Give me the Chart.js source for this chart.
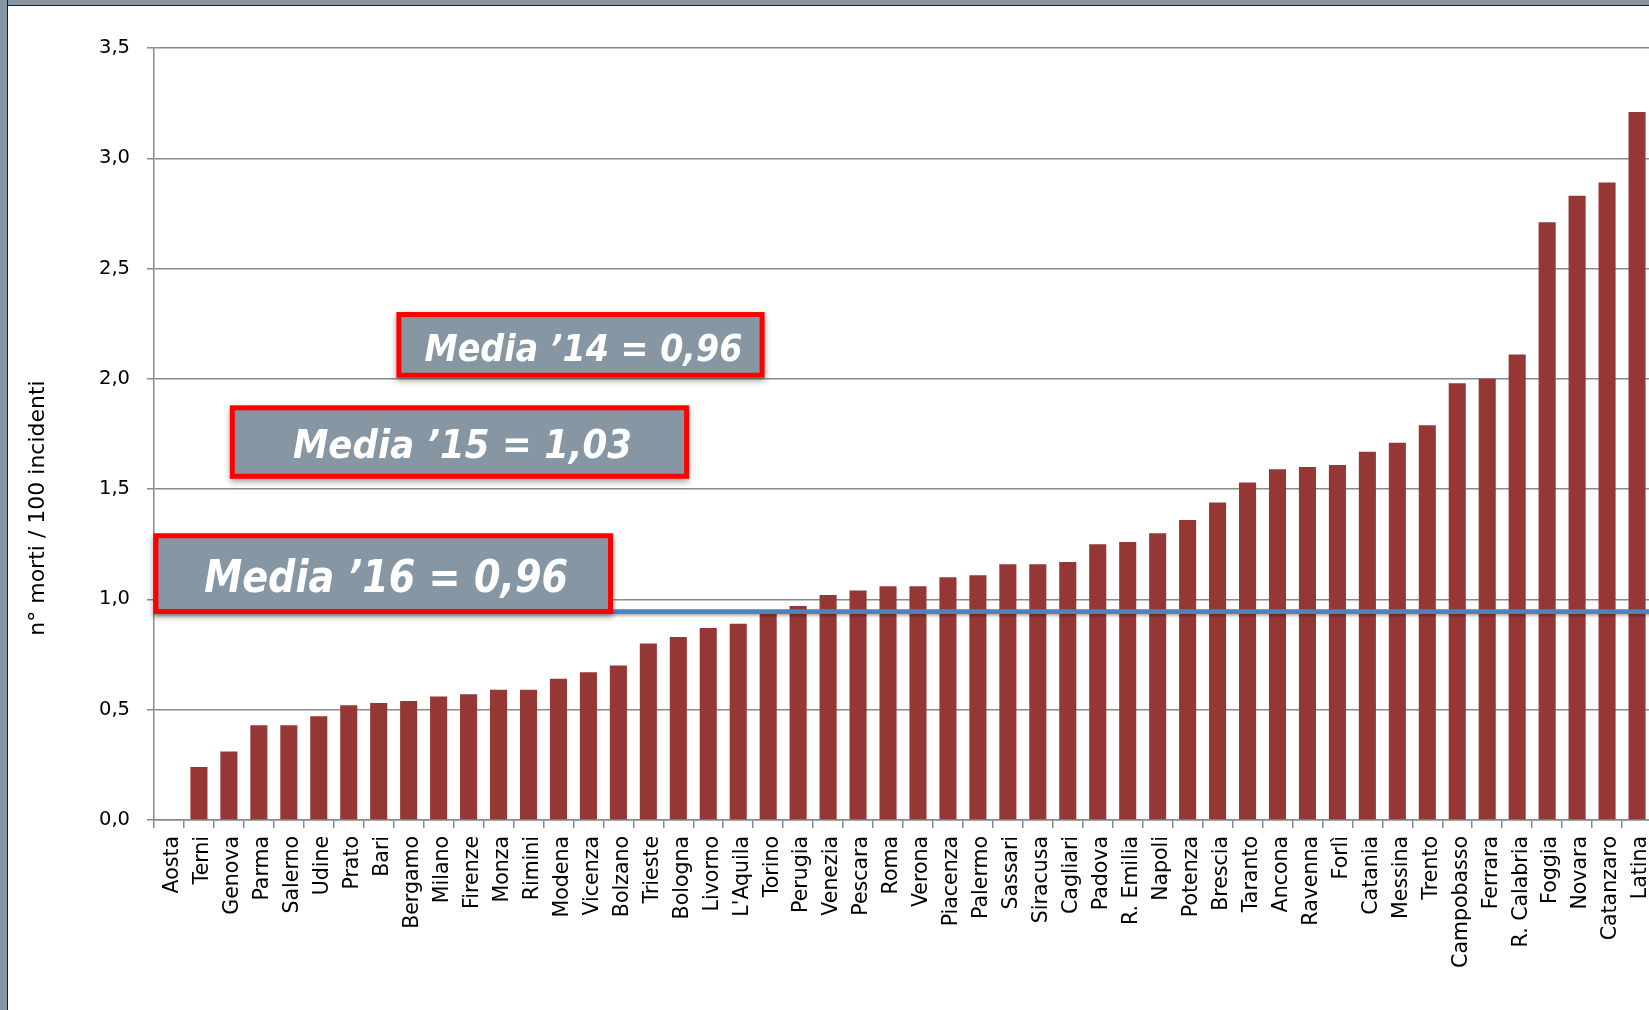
<!DOCTYPE html>
<html>
<head>
<meta charset="utf-8">
<script src="https://cdn.jsdelivr.net/npm/chart.js@4/dist/chart.umd.min.js"></script>
<style>
html,body{margin:0;padding:0;overflow:hidden;background:#fff;width:1649px;height:1010px;}
#wrap{position:absolute;left:0;top:0;width:1652px;height:1010px;}
#frameTop{position:absolute;left:0;top:0;width:1649px;height:5px;background:#8596a2;border-bottom:1px solid #1e1e1e;z-index:2}
#frameLeft{position:absolute;left:0;top:0;width:7px;height:1010px;background:#8596a2;border-right:1px solid #1e1e1e;z-index:2}
</style>
</head>
<body>
<div id="wrap"><canvas id="c" width="1652" height="1010" style="width:1652px;height:1010px"></canvas></div>
<div id="frameTop"></div>
<div id="frameLeft"></div>
<script>
const cities = ['Aosta','Terni','Genova','Parma','Salerno','Udine','Prato','Bari','Bergamo','Milano',
  'Firenze','Monza','Rimini','Modena','Vicenza','Bolzano','Trieste','Bologna','Livorno',"L'Aquila",
  'Torino','Perugia','Venezia','Pescara','Roma','Verona','Piacenza','Palermo','Sassari','Siracusa',
  'Cagliari','Padova','R. Emilia','Napoli','Potenza','Brescia','Taranto','Ancona','Ravenna','Forlì',
  'Catania','Messina','Trento','Campobasso','Ferrara','R. Calabria','Foggia','Novara','Catanzaro','Latina'];
const deathsPer100 = [0, 0.24, 0.31, 0.43, 0.43, 0.47, 0.52, 0.53, 0.54, 0.56,
  0.57, 0.59, 0.59, 0.64, 0.67, 0.70, 0.80, 0.83, 0.87, 0.89,
  0.94, 0.97, 1.02, 1.04, 1.06, 1.06, 1.10, 1.11, 1.16, 1.16,
  1.17, 1.25, 1.26, 1.30, 1.36, 1.44, 1.53, 1.59, 1.60, 1.61,
  1.67, 1.71, 1.79, 1.98, 2.00, 2.11, 2.71, 2.83, 2.89, 3.21];
const yTickLabels = ['0,0','0,5','1,0','1,5','2,0','2,5','3,0','3,5'];
const yTitle = 'n° morti / 100 incidenti';
const media16Line = 0.945;
const boxTexts = ['Media ’14 = 0,96', 'Media ’15 = 1,03', 'Media ’16 = 0,96'];
// box extents in category units (x) and axis values (y)
const boxX0 = [7.59, 2.03, -0.52];
const boxX1 = [19.88, 17.36, 14.82];
const boxYTop = [2.303, 1.880, 1.300];
const boxYBottom = [2.005, 1.547, 0.934];
const boxFontSize = [38, 39, 44];
const boxTextWidth = [318, 339, 364];

const overlay = {
  id: 'overlay',
  afterDatasetsDraw(chart) {
    const {ctx, chartArea, scales: {x, y}} = chart;
    const py = y.getPixelForValue(media16Line);
    ctx.save();
    ctx.shadowColor = 'rgba(0,0,0,0.3)';
    ctx.shadowBlur = 3;
    ctx.shadowOffsetY = 2;
    ctx.strokeStyle = '#4F81BD';
    ctx.lineWidth = 4.7;
    ctx.beginPath();
    ctx.moveTo(chartArea.left, py);
    ctx.lineTo(chartArea.right, py);
    ctx.stroke();
    ctx.restore();

    for (let i = 0; i < boxTexts.length; i++) {
      const l = x.getPixelForValue(boxX0[i]);
      const r = x.getPixelForValue(boxX1[i]);
      const t = y.getPixelForValue(boxYTop[i]);
      const b = y.getPixelForValue(boxYBottom[i]);
      ctx.save();
      ctx.shadowColor = 'rgba(0,0,0,0.35)';
      ctx.shadowBlur = 6;
      ctx.shadowOffsetY = 3;
      ctx.fillStyle = '#ff0000';
      ctx.fillRect(l, t, r - l, b - t);
      ctx.restore();
      ctx.fillStyle = '#8697a3';
      ctx.fillRect(l + 5, t + 5, r - l - 10, b - t - 10);
      const fs = boxFontSize[i];
      ctx.save();
      ctx.font = 'italic bold ' + fs + 'px "DejaVu Sans"';
      ctx.fillStyle = '#ffffff';
      ctx.textAlign = 'center';
      ctx.textBaseline = 'alphabetic';
      ctx.fillText(boxTexts[i], (l + r) / 2 + 3, (t + b) / 2 + 0.729 * fs / 2 + 2, boxTextWidth[i]);
      ctx.restore();
    }
  },
  afterDraw(chart) {
    const {ctx} = chart;
    ctx.save();
    ctx.translate(38.5, 508);
    ctx.rotate(-Math.PI / 2);
    ctx.font = '22px "DejaVu Sans"';
    ctx.fillStyle = '#000';
    ctx.textAlign = 'center';
    ctx.textBaseline = 'middle';
    ctx.fillText(yTitle, 0, 0);
    ctx.restore();
  }
};

new Chart(document.getElementById('c'), {
  type: 'bar',
  data: {
    labels: cities,
    datasets: [{
      data: deathsPer100,
      backgroundColor: '#953735',
      barPercentage: 0.57,
      categoryPercentage: 1
    }]
  },
  options: {
    responsive: false,
    animation: false,
    layout: {padding: {top: 48, right: 0, left: 0, bottom: 0}},
    plugins: {legend: {display: false}, tooltip: {enabled: false}},
    scales: {
      x: {
        offset: true,
        grid: {offset: true, drawOnChartArea: false, tickLength: 8, color: '#8a8a8a', lineWidth: 1.5},
        border: {color: '#8a8a8a', width: 1.5},
        ticks: {autoSkip: false, minRotation: 90, maxRotation: 90, padding: 8, labelOffset: 4, color: '#000',
                font: {family: '"DejaVu Sans"', size: 20.5}},
        afterFit(s) { s.height = 190; s.paddingRight = 0; s.paddingLeft = 0; }
      },
      y: {
        min: 0, max: 3.5,
        ticks: {stepSize: 0.5, padding: 17, color: '#000', font: {family: '"DejaVu Sans"', size: 19.5},
                callback: (v, i) => yTickLabels[i]},
        grid: {color: '#8a8a8a', lineWidth: 1.5, tickLength: 7},
        border: {color: '#8a8a8a', width: 1.5},
        afterFit(s) { s.width = 154; }
      }
    }
  },
  plugins: [overlay]
});
</script>
</body>
</html>
